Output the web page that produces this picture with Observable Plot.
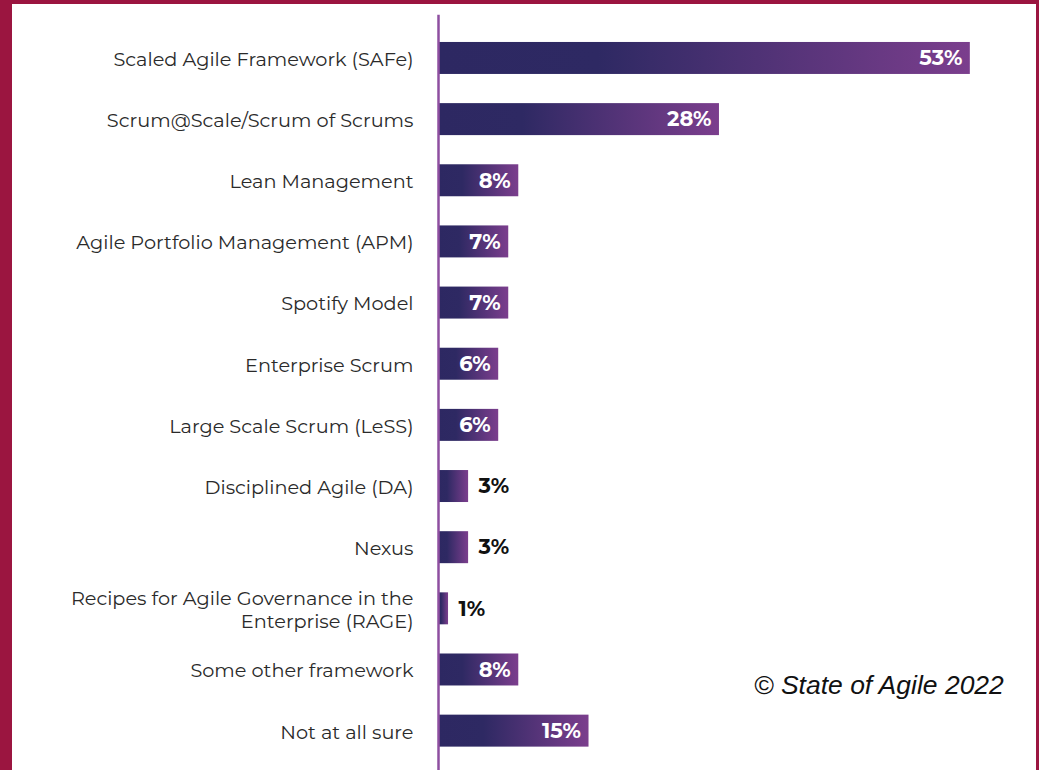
<!DOCTYPE html>
<html>
<head>
<meta charset="utf-8">
<script src="https://cdn.jsdelivr.net/npm/d3@7"></script>
<script src="https://cdn.jsdelivr.net/npm/@observablehq/plot@0.6"></script>
<style>
  html, body { margin: 0; padding: 0; overflow: hidden; }
  body { background: #9b1540; width: 1039px; height: 770px; position: relative; }
  #panel { position: absolute; left: 12px; top: 4px; width: 1024px; height: 770px; background: #fff; overflow: hidden; }
  #credit { position: absolute; left: 742px; top: 666px; font-family: "Liberation Sans", Arial, sans-serif; font-style: italic; font-size: 26.5px; color: #111; white-space: nowrap; }
</style>
</head>
<body>
<div id="panel"><div id="credit">© State of Agile 2022</div></div>
<script>
const categories = [
  "Scaled Agile Framework (SAFe)",
  "Scrum@Scale/Scrum of Scrums",
  "Lean Management",
  "Agile Portfolio Management (APM)",
  "Spotify Model",
  "Enterprise Scrum",
  "Large Scale Scrum (LeSS)",
  "Disciplined Agile (DA)",
  "Nexus",
  "Recipes for Agile Governance in the\nEnterprise (RAGE)",
  "Some other framework",
  "Not at all sure"
];
const values = [53, 28, 8, 7, 7, 6, 6, 3, 3, 1, 8, 15];

const data = categories.map((c, i) => ({category: c, value: values[i]}));
const inside = data.filter(d => d.value >= 5);
const outside = data.filter(d => d.value < 5);

const chart = Plot.plot({
  width: 1024,
  height: 780,
  marginLeft: 426,
  marginRight: 16,
  marginTop: 8.8,
  marginBottom: 8.2,
  style: {fontFamily: "Montserrat, 'Open Sans', sans-serif", background: "transparent"},
  x: {domain: [0, 58], axis: null},
  y: {domain: categories, padding: 0.477, round: false, label: null},
  marks: [
    Plot.barX(data, {x: "value", y: "category", fill: "url(#barGrad)"}),
    Plot.ruleX([0], {stroke: "#8e4fa0", strokeWidth: 2.5, insetTop: 2}),
    Plot.axisY({tickSize: 0, tickPadding: 25, fontSize: 19.3, fill: "#2a2a2a", lineHeight: 1.2, label: null}),
    Plot.text(inside, {x: "value", y: "category", text: d => d.value + "%", textAnchor: "end", dx: -8, fill: "white", fontWeight: "bold", fontSize: 21}),
    Plot.text(outside, {x: "value", y: "category", text: d => d.value + "%", textAnchor: "start", dx: 10, fill: "#111", fontWeight: "bold", fontSize: 21})
  ]
});

const svg = d3.select(chart);
const defs = svg.insert("defs", ":first-child");
const g = defs.append("linearGradient").attr("id", "barGrad").attr("x1", "0").attr("x2", "1").attr("y1", "0").attr("y2", "0");
g.append("stop").attr("offset", "0%").attr("stop-color", "#2d2862");
g.append("stop").attr("offset", "30%").attr("stop-color", "#2e2963");
g.append("stop").attr("offset", "100%").attr("stop-color", "#7b3e8d");

const panel = document.getElementById("panel");
panel.insertBefore(chart, panel.firstChild);
</script>
</body>
</html>
